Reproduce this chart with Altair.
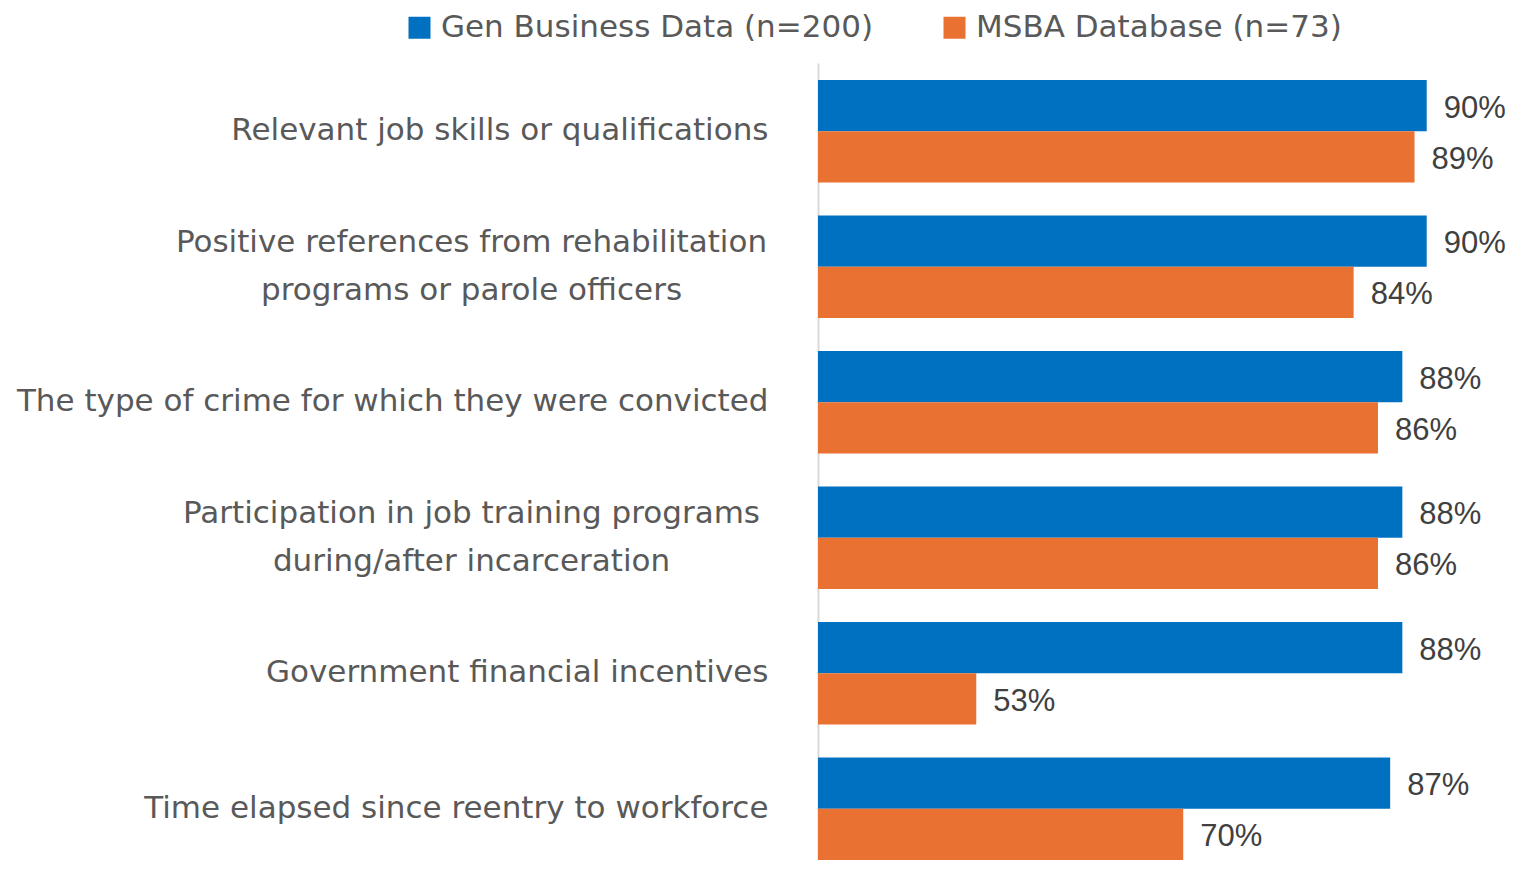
import altair as alt
import pandas as pd

categories = [
    "Relevant job skills or qualifications",
    "Positive references from rehabilitation|programs or parole officers",
    "The type of crime for which they were convicted",
    "Participation in job training programs|during/after incarceration",
    "Government financial incentives",
    "Time elapsed since reentry to workforce",
]
series = ["Gen Business Data (n=200)", "MSBA Database (n=73)"]
gen_values = [90, 90, 88, 88, 88, 87]
msba_values = [89, 84, 86, 86, 53, 70]
colors = ["#0070C0", "#E97132"]

rows = []
for c, g, m in zip(categories, gen_values, msba_values):
    rows.append({"category": c, "series": series[0], "value": g, "label": f"{g}%"})
    rows.append({"category": c, "series": series[1], "value": m, "label": f"{m}%"})
df = pd.DataFrame(rows)

FONT = "DejaVu Sans"
multi = "indexof(datum.value, '|') >= 0"

base = alt.Chart(df).encode(
    y=alt.Y(
        "category:N",
        sort=categories,
        scale=alt.Scale(paddingInner=0.2426, paddingOuter=0.0627, align=1),
        axis=alt.Axis(
            title=None,
            ticks=False,
            domain=True,
            domainColor="#D9D9D9",
            domainWidth=2,
            labelFont=FONT,
            labelFontSize=31,
            labelColor="#595959",
            labelPadding={"condition": {"test": multi, "value": 347}, "value": 50},
            labelAlign={"condition": {"test": multi, "value": "center"}, "value": "right"},
            labelOffset={"condition": {"test": multi, "value": -24}, "value": 0},
            labelLimit=1000,
            labelLineHeight=48,
            labelExpr="split(datum.label, '|')",
        ),
    ),
    yOffset=alt.YOffset("series:N", sort=series),
)

bars = base.mark_bar().encode(
    x=alt.X("value:Q", scale=alt.Scale(domain=[40, 97.5], zero=False, nice=False), axis=None),
    x2=alt.datum(40),
    color=alt.Color(
        "series:N",
        sort=series,
        scale=alt.Scale(domain=series, range=colors),
        legend=alt.Legend(
            title=None,
            orient="none",
            legendX=-414,
            legendY=-51,
            direction="horizontal",
            symbolType="square",
            symbolSize=484,
            symbolStrokeWidth=0,
            labelFont=FONT,
            labelFontSize=31,
            labelColor="#595959",
            labelOffset=6,
            labelLimit=800,
            columnPadding=65,
        ),
    ),
)

text = base.mark_text(
    align="left", baseline="middle", dx=17, dy=3,
    font="Liberation Sans", fontSize=31, color="#404040",
).encode(
    x=alt.X("value:Q"),
    text=alt.Text("label:N"),
)

chart = (
    alt.layer(bars, text)
    .properties(
        width=700,
        height=797,
        autosize=alt.AutoSizeParams(type="none"),
        padding={"left": 810, "top": 55, "right": 0, "bottom": 0},
    )
    .configure_view(stroke=None)
)

chart.save("out.html", embed_options={"renderer": "svg", "actions": False})
